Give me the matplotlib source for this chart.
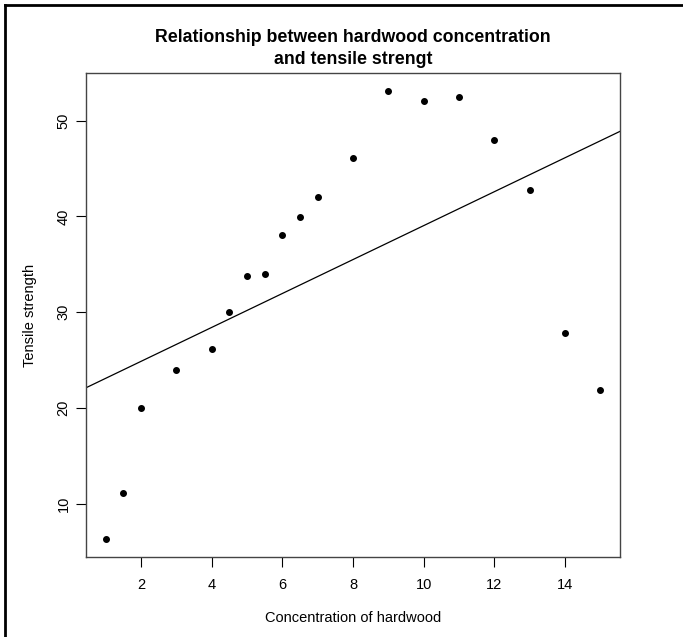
import numpy as np
import matplotlib
matplotlib.use("Agg")
import matplotlib.pyplot as plt
from matplotlib.lines import Line2D

plt.rcParams['font.family'] = ['Liberation Sans', 'DejaVu Sans']

concentration = [1, 1.5, 2, 3, 4, 4.5, 5, 5.5, 6, 6.5, 7, 8, 9, 10, 11, 12, 13, 14, 15]
strength = [6.3, 11.1, 20.0, 24.0, 26.1, 30.0, 33.8, 34.0, 38.1, 39.9, 42.0,
            46.1, 53.1, 52.0, 52.5, 48.0, 42.8, 27.8, 21.9]
xticks = [2, 4, 6, 8, 10, 12, 14]
yticks = [10, 20, 30, 40, 50]

W, H = 683, 637
fig = plt.figure(figsize=(W / 100, H / 100), dpi=100)
ax = fig.add_axes([86 / W, 1 - 557 / H, (620 - 86) / W, (557 - 73) / H])

ax.plot(concentration, strength, 'o', color='black', ms=4)

# least squares fit line, like abline(lm(...))
slope, intercept = np.polyfit(concentration, strength, 1)
ax.axline((0, intercept), slope=slope, color='black', lw=0.9)

# R style 4% padding
xr = max(concentration) - min(concentration)
yr = max(strength) - min(strength)
ax.set_xlim(min(concentration) - 0.04 * xr, max(concentration) + 0.04 * xr)
ax.set_ylim(min(strength) - 0.04 * yr, max(strength) + 0.04 * yr)

ax.set_xticks(xticks)
ax.set_yticks(yticks)
ax.set_yticklabels([str(v) for v in yticks], rotation=90, va='center')
ax.tick_params(length=7, width=0.8, labelsize=10.5)
ax.tick_params(axis='x', pad=8)
ax.tick_params(axis='y', pad=4)
for s in ax.spines.values():
    s.set_color('#444444')
    s.set_linewidth(1.0)

ax.set_xlabel('Concentration of hardwood', fontsize=10.5, va='center')
ax.set_ylabel('Tensile strength', fontsize=10.5, va='center')
ax.xaxis.set_label_coords(0.5, -(618 - 557) / 484)
ax.yaxis.set_label_coords(-(86 - 30) / 534, 0.5)
ax.set_title('Relationship between hardwood concentration\nand tensile strengt',
             fontsize=12.8, fontweight='bold', pad=6.5, linespacing=1.35)

# outer frame (left and top edges)
fig.add_artist(Line2D([5 / W, 5 / W], [0, 1 - 5 / H], transform=fig.transFigure, color='black', lw=2))
fig.add_artist(Line2D([5 / W, 1], [1 - 5 / H, 1 - 5 / H], transform=fig.transFigure, color='black', lw=2))

fig.savefig('out.png', dpi=100)
